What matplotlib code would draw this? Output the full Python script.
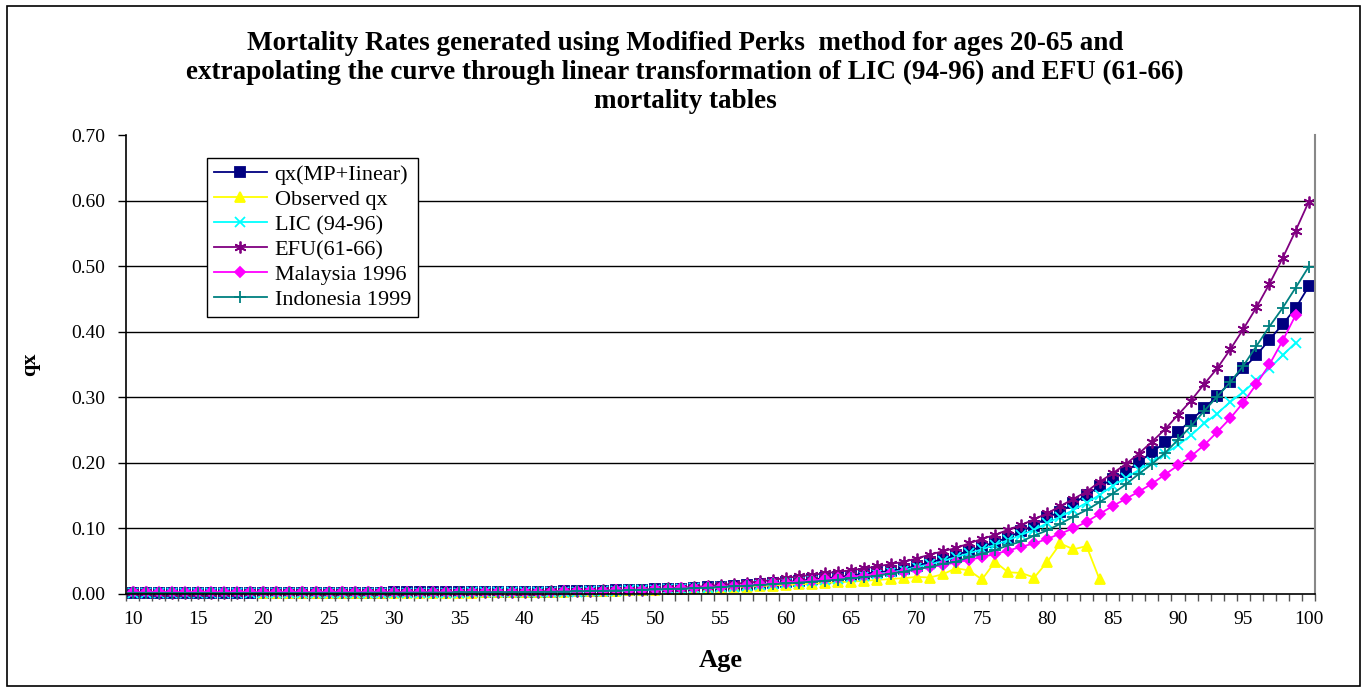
import numpy as np
from matplotlib import pyplot as plt
from matplotlib.patches import Rectangle
from matplotlib.ticker import MultipleLocator, FormatStrFormatter


# DATA

# ages 10-100 for the fitted curve, EFU and Indonesia; LIC and Malaysia stop at 99
AGES = list(range(10, 101))
AGES_TO_99 = list(range(10, 100))
# observed rates only exist for ages 20-84
OBS_AGES = list(range(20, 85))

QX_MP_LINEAR = [
    0.0020, 0.0019, 0.0018, 0.0018, 0.0017, 0.0017, 0.0017, 0.0017, 0.0017, 0.0017,
    0.0017, 0.0017, 0.0017, 0.0018, 0.0018, 0.0018, 0.0019, 0.0019, 0.0020, 0.0021,
    0.0022, 0.0023, 0.0024, 0.0025, 0.0026, 0.0027, 0.0028, 0.0029, 0.0030, 0.0031,
    0.0032, 0.0034, 0.0036, 0.0038, 0.0041, 0.0044, 0.0048, 0.0053, 0.0058, 0.0064,
    0.0070, 0.0075, 0.0080, 0.0090, 0.0100, 0.0110, 0.0120, 0.0130, 0.0150, 0.0160,
    0.0180, 0.0200, 0.0220, 0.0240, 0.0260, 0.0280, 0.0310, 0.0330, 0.0350, 0.0380,
    0.043, 0.048, 0.053, 0.059, 0.066, 0.072, 0.079, 0.086, 0.096, 0.104,
    0.117, 0.125, 0.138, 0.151, 0.164, 0.175, 0.186, 0.201, 0.216, 0.231,
    0.247, 0.265, 0.283, 0.302, 0.323, 0.344, 0.364, 0.388, 0.411, 0.436,
    0.469]

OBSERVED_QX = [
    0.0015, 0.0014, 0.0014, 0.0013, 0.0013, 0.0012, 0.0010, 0.0008, 0.0008, 0.0010,
    0.0012, 0.0013, 0.0014, 0.0015, 0.0016, 0.0018, 0.0020, 0.0022, 0.0024, 0.0026,
    0.0028, 0.0030, 0.0033, 0.0036, 0.0040, 0.0044, 0.0048, 0.0052, 0.0057, 0.0062,
    0.0067, 0.0072, 0.0078, 0.0084, 0.0090, 0.0097, 0.0104, 0.0112, 0.0120, 0.0128,
    0.0137, 0.0146, 0.0156, 0.0166, 0.0177, 0.0188, 0.0200, 0.0213, 0.0228, 0.0240,
    0.026, 0.025, 0.030, 0.039, 0.036, 0.022, 0.049, 0.033, 0.032, 0.025,
    0.049, 0.077, 0.068, 0.073, 0.022]

LIC_94_96 = [
    0.0016, 0.0015, 0.0015, 0.0014, 0.0014, 0.0014, 0.0014, 0.0014, 0.0014, 0.0014,
    0.0014, 0.0014, 0.0015, 0.0015, 0.0015, 0.0016, 0.0016, 0.0017, 0.0017, 0.0018,
    0.0018, 0.0019, 0.0019, 0.0020, 0.0021, 0.0021, 0.0022, 0.0023, 0.0024, 0.0025,
    0.0025, 0.0027, 0.0030, 0.0033, 0.0036, 0.0040, 0.0044, 0.0048, 0.0053, 0.0058,
    0.0064, 0.0070, 0.0077, 0.0085, 0.0093, 0.0102, 0.0112, 0.0123, 0.0135, 0.0148,
    0.0162, 0.0178, 0.0195, 0.0213, 0.0233, 0.0255, 0.0280, 0.0305, 0.0330, 0.0360,
    0.041, 0.045, 0.050, 0.056, 0.062, 0.068, 0.075, 0.082, 0.090, 0.098,
    0.108, 0.118, 0.128, 0.139, 0.151, 0.165, 0.177, 0.189, 0.201, 0.214,
    0.227, 0.242, 0.260, 0.275, 0.293, 0.308, 0.326, 0.344, 0.364, 0.383]

EFU_61_66 = [
    0.0022, 0.0022, 0.0021, 0.0021, 0.0021, 0.0021, 0.0021, 0.0021, 0.0021, 0.0022,
    0.0022, 0.0022, 0.0022, 0.0023, 0.0023, 0.0023, 0.0024, 0.0024, 0.0025, 0.0025,
    0.0026, 0.0026, 0.0027, 0.0027, 0.0028, 0.0028, 0.0029, 0.0029, 0.0030, 0.0031,
    0.0032, 0.0035, 0.0038, 0.0041, 0.0045, 0.0049, 0.0053, 0.0057, 0.0062, 0.0067,
    0.0073, 0.0085, 0.0097, 0.0108, 0.0120, 0.0138, 0.0153, 0.0170, 0.0190, 0.0212,
    0.0245, 0.0268, 0.0290, 0.0315, 0.0340, 0.0360, 0.0390, 0.0420, 0.0455, 0.0490,
    0.054, 0.060, 0.065, 0.070, 0.077, 0.084, 0.090, 0.098, 0.105, 0.114,
    0.123, 0.134, 0.145, 0.156, 0.171, 0.184, 0.198, 0.214, 0.232, 0.251,
    0.273, 0.295, 0.320, 0.344, 0.373, 0.404, 0.437, 0.473, 0.512, 0.554,
    0.598]

MALAYSIA_1996 = [
    0.0024, 0.0023, 0.0023, 0.0022, 0.0022, 0.0022, 0.0022, 0.0022, 0.0022, 0.0022,
    0.0022, 0.0022, 0.0023, 0.0023, 0.0023, 0.0024, 0.0024, 0.0024, 0.0025, 0.0025,
    0.0026, 0.0026, 0.0026, 0.0027, 0.0027, 0.0027, 0.0028, 0.0028, 0.0029, 0.0029,
    0.0030, 0.0033, 0.0036, 0.0039, 0.0043, 0.0047, 0.0051, 0.0056, 0.0061, 0.0067,
    0.0073, 0.0080, 0.0087, 0.0095, 0.0104, 0.0113, 0.0123, 0.0134, 0.0146, 0.0159,
    0.0173, 0.0188, 0.0204, 0.0221, 0.0239, 0.0258, 0.0278, 0.0299, 0.0320, 0.0340,
    0.037, 0.041, 0.044, 0.048, 0.052, 0.056, 0.061, 0.066, 0.072, 0.077,
    0.084, 0.092, 0.100, 0.110, 0.122, 0.134, 0.145, 0.156, 0.168, 0.182,
    0.196, 0.210, 0.227, 0.247, 0.268, 0.292, 0.320, 0.350, 0.386, 0.425]

INDONESIA_1999 = [
    0.0018, 0.0017, 0.0016, 0.0016, 0.0016, 0.0015, 0.0015, 0.0015, 0.0015, 0.0015,
    0.0016, 0.0016, 0.0016, 0.0016, 0.0017, 0.0017, 0.0017, 0.0018, 0.0018, 0.0019,
    0.0019, 0.0020, 0.0020, 0.0021, 0.0021, 0.0022, 0.0023, 0.0024, 0.0025, 0.0026,
    0.0028, 0.0030, 0.0033, 0.0036, 0.0039, 0.0043, 0.0047, 0.0052, 0.0057, 0.0062,
    0.0068, 0.0074, 0.0081, 0.0088, 0.0096, 0.0105, 0.0115, 0.0125, 0.0136, 0.0148,
    0.0160, 0.0173, 0.0187, 0.0202, 0.0218, 0.0236, 0.0255, 0.0280, 0.0310, 0.0340,
    0.038, 0.041, 0.046, 0.049, 0.056, 0.061, 0.067, 0.074, 0.080, 0.089,
    0.097, 0.107, 0.118, 0.128, 0.140, 0.153, 0.167, 0.183, 0.198, 0.215,
    0.235, 0.256, 0.279, 0.301, 0.323, 0.348, 0.378, 0.408, 0.436, 0.467,
    0.499]

TITLE = ("Mortality Rates generated using Modified Perks  method for ages 20-65 and\n"
         "extrapolating the curve through linear transformation of LIC (94-96) and EFU (61-66)\n"
         "mortality tables")


# STYLE

plt.rcParams['font.family'] = ['Liberation Serif', 'DejaVu Serif']

# (label, x, y, color, marker, markersize)
SERIES = [
    ("qx(MP+Iinear)", AGES, QX_MP_LINEAR, "#000080", "s", 7),
    ("Observed qx", OBS_AGES, OBSERVED_QX, "#FFFF00", "^", 7.5),
    ("LIC (94-96)", AGES_TO_99, LIC_94_96, "#00FFFF", "x", 7.5),
    ("EFU(61-66)", AGES, EFU_61_66, "#800080", (6, 2, 0), 8.5),
    ("Malaysia 1996", AGES_TO_99, MALAYSIA_1996, "#FF00FF", "D", 5.5),
    ("Indonesia 1999", AGES, INDONESIA_1999, "#008080", "+", 8.5),
]


# PLOT

fig = plt.figure(figsize=(13.7, 6.89), dpi=100)
ax = fig.add_axes([0.092, 0.138, 0.868, 0.666])

for label, x, y, color, marker, ms in SERIES:
    ax.plot(x, y, color=color, marker=marker, markersize=ms, linewidth=1.3,
            markeredgewidth=1.3, label=label, clip_on=False)

ax.set_xlim(9.5, 100.5)
ax.set_ylim(0, 0.70)

# category style x axis: labels every 5 ages, small ticks between categories
ax.xaxis.set_major_locator(MultipleLocator(5))
ax.set_xticks(np.arange(9.5, 101, 1), minor=True)
ax.tick_params(axis='x', which='major', length=0, pad=12, labelsize=14)
ax.tick_params(axis='x', which='minor', length=5, width=1, direction='out', color='#555555')

ax.yaxis.set_major_locator(MultipleLocator(0.1))
ax.yaxis.set_major_formatter(FormatStrFormatter('%.2f'))
ax.tick_params(axis='y', length=6, width=1, pad=9, labelsize=14)

for v in np.arange(0.1, 0.65, 0.1):
    ax.axhline(v, color='black', linewidth=1, zorder=0)

ax.spines['top'].set_visible(False)
ax.spines['right'].set_color('#888888')
ax.spines['right'].set_linewidth(1.5)
ax.spines['left'].set_linewidth(1.2)
ax.spines['bottom'].set_linewidth(1.2)

ax.set_xlabel("Age", fontsize=19, fontweight='bold')
ax.xaxis.set_label_coords(0.5, -0.12)
ax.set_ylabel("qx", fontsize=16, fontweight='bold')
ax.yaxis.set_label_coords(-0.072, 0.5)

fig.text(0.5, 0.955, TITLE, ha='center', va='top', fontsize=19.5,
         fontweight='bold', linespacing=1.2)

leg = ax.legend(loc='upper left', bbox_to_anchor=(0.068, 0.95), borderaxespad=0,
                fancybox=False, edgecolor='black', framealpha=1, fontsize=16,
                handlelength=2.4, handletextpad=0.35, labelspacing=0.2,
                borderpad=0.3)
leg.get_frame().set_linewidth(1)

# frame round the whole chart
fig.patches.append(Rectangle((0.005, 0.004), 0.988, 0.988, transform=fig.transFigure,
                             fill=False, edgecolor='black', linewidth=1.2))

fig.savefig("out.png", dpi=100)
